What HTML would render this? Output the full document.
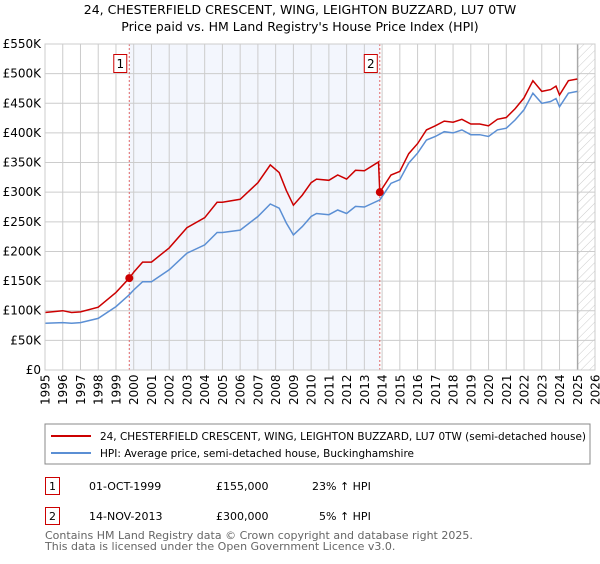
<!DOCTYPE html>
<html><head><meta charset="utf-8"><style>
body{margin:0;background:#fff;width:600px;height:560px;overflow:hidden;font-family:"DejaVu Sans","Liberation Sans",sans-serif;}
svg text{font-family:"DejaVu Sans","Liberation Sans",sans-serif;}
</style></head><body>
<svg id="chart" width="600" height="560" xmlns="http://www.w3.org/2000/svg">
<defs><pattern id="hatch" width="6" height="6" patternUnits="userSpaceOnUse" patternTransform="rotate(45)"><line x1="0" y1="0" x2="0" y2="6" stroke="#ccc" stroke-width="1"/></pattern></defs>
<text x="300" y="14" text-anchor="middle" font-size="12.5" fill="#000">24, CHESTERFIELD CRESCENT, WING, LEIGHTON BUZZARD, LU7 0TW</text>
<text x="300" y="31" text-anchor="middle" font-size="12.5" fill="#000">Price paid vs. HM Land Registry's House Price Index (HPI)</text>
<g id="plot"></g>
<g>
<rect x="45" y="424" width="545" height="40" fill="#fff" stroke="#888"/>
<line x1="51" y1="436" x2="91" y2="436" stroke="#cc0000" stroke-width="2"/>
<text x="100" y="440" font-size="11" textLength="486" lengthAdjust="spacingAndGlyphs">24, CHESTERFIELD CRESCENT, WING, LEIGHTON BUZZARD, LU7 0TW (semi-detached house)</text>
<line x1="51" y1="453" x2="91" y2="453" stroke="#5b8fd4" stroke-width="2"/>
<text x="100" y="457" font-size="11" textLength="314" lengthAdjust="spacingAndGlyphs">HPI: Average price, semi-detached house, Buckinghamshire</text>
</g>
<g font-size="11">
<rect x="45.5" y="477.5" width="14" height="17" fill="#fff" stroke="#cc0000"/><text x="52.5" y="490" text-anchor="middle">1</text>
<text x="89" y="490">01-OCT-1999</text><text x="216" y="490">£155,000</text><text x="312" y="490">23% ↑ HPI</text>
<rect x="45.5" y="507.5" width="14" height="17" fill="#fff" stroke="#cc0000"/><text x="52.5" y="520" text-anchor="middle">2</text>
<text x="89" y="520">14-NOV-2013</text><text x="216" y="520">£300,000</text><text x="319" y="520">5% ↑ HPI</text>
</g>
<text x="45" y="539" font-size="11" fill="#666">Contains HM Land Registry data © Crown copyright and database right 2025.</text>
<text x="45" y="550" font-size="11" fill="#666">This data is licensed under the Open Government Licence v3.0.</text>
</svg>
<script>
const hpiYears=[1995,1996,1996.5,1997,1998,1999,1999.75,2000,2000.5,2001,2002,2003,2004,2004.7,2005,2006,2007,2007.7,2008.2,2008.6,2009,2009.5,2010,2010.3,2011,2011.5,2012,2012.5,2013,2013.87,2014.5,2015,2015.5,2016,2016.5,2017,2017.5,2018,2018.5,2019,2019.5,2020,2020.5,2021,2021.5,2022,2022.5,2023,2023.5,2023.8,2024,2024.5,2025];
const hpiValues=[79,80,79,80,87,107,127,135,149,149,169,197,211,232,232,236,259,280,273,248,228,242,259,264,262,270,264,276,275,287,315,321,349,366,388,394,402,400,405,397,397,394,405,408,422,439,467,450,453,458,444,467,470];
const priceYears=[1995,1996,1996.5,1997,1998,1999,1999.75,2000,2000.5,2001,2002,2003,2004,2004.7,2005,2006,2007,2007.7,2008.2,2008.6,2009,2009.5,2010,2010.3,2011,2011.5,2012,2012.5,2013,2013.8,2013.87,2014.5,2015,2015.5,2016,2016.5,2017,2017.5,2018,2018.5,2019,2019.5,2020,2020.5,2021,2021.5,2022,2022.5,2023,2023.5,2023.8,2024,2024.5,2025];
const priceValues=[97,100,97,98,106,131,155,165,182,182,206,240,257,283,283,288,316,346,333,303,278,295,316,322,320,329,322,337,336,351,300,329,335,365,382,405,412,420,418,423,415,415,412,423,426,441,459,488,470,473,479,464,488,491];
const saleYears=[1999.75,2013.87];
const saleValues=[155,300];
const saleLabels=["1","2"];
const yTicks=[0,50,100,150,200,250,300,350,400,450,500,550];
const yTickLabels=["£0","£50K","£100K","£150K","£200K","£250K","£300K","£350K","£400K","£450K","£500K","£550K"];
const xTicks=[1995,1996,1997,1998,1999,2000,2001,2002,2003,2004,2005,2006,2007,2008,2009,2010,2011,2012,2013,2014,2015,2016,2017,2018,2019,2020,2021,2022,2023,2024,2025,2026];
const dataEndYear=2025.03;

const X0=45,X1=595,Y0=370,Y1=44,xmin=1995,xmax=2026,ymax=550;
const xs=v=>X0+(v-xmin)/(xmax-xmin)*(X1-X0);
const ys=v=>Y0-v/ymax*(Y0-Y1);
const NS="http://www.w3.org/2000/svg";
const plot=document.getElementById('plot');
function mk(tag,attrs,parent){const e=document.createElementNS(NS,tag);for(const k in attrs)e.setAttribute(k,attrs[k]);(parent||plot).appendChild(e);return e;}

let e=mk('rect',{x:xs(saleYears[0]),y:Y1,width:xs(saleYears[1])-xs(saleYears[0]),height:Y0-Y1,fill:'#f3f6fd'});


e=mk('rect',{x:xs(dataEndYear),y:Y1,width:X1-xs(dataEndYear),height:Y0-Y1,fill:'url(#hatch)'});


xTicks.forEach((t,i)=>{
 const g=mk('line',{x1:xs(t),x2:xs(t),y1:Y1,y2:Y0,stroke:'#ccc','stroke-width':1});
 
 
 const x=xs(t)+4.5,y=405;
 const tx=mk('text',{x:x,y:y,'font-size':12,transform:`rotate(-90 ${x} ${y})`});
 tx.textContent=t;
 
 
});
yTicks.forEach((t,i)=>{
 const g=mk('line',{x1:X0,x2:X1,y1:ys(t),y2:ys(t),stroke:'#ccc','stroke-width':1});
 
 
 const tx=mk('text',{x:41,y:ys(t)+4,'font-size':12,'text-anchor':'end'});
 tx.textContent=yTickLabels[i];
 
 
});
e=mk('line',{x1:xs(dataEndYear),x2:xs(dataEndYear),y1:Y1,y2:Y0,stroke:'#999','stroke-width':1});


saleYears.forEach((s,i)=>{
 const l=mk('line',{x1:xs(s),x2:xs(s),y1:Y1,y2:Y0,stroke:'#e06666','stroke-width':1,'stroke-dasharray':'2,2'});
 
 
 const r=mk('rect',{x:xs(s)-15.5,y:54.5,width:13,height:18,fill:'#fff',stroke:'#cc0000'});
 
 
 const t=mk('text',{x:xs(s)-9,y:68,'font-size':12,'text-anchor':'middle'});
 t.textContent=saleLabels[i];
 
 
});
const path=(xa,va)=>xa.map((x,i)=>(i?'L':'M')+xs(x).toFixed(1)+','+ys(va[i]).toFixed(1)).join('');
e=mk('path',{d:path(hpiYears,hpiValues),fill:'none',stroke:'#5b8fd4','stroke-width':1.5});


e=mk('path',{d:path(priceYears,priceValues),fill:'none',stroke:'#cc0000','stroke-width':1.5});


saleYears.forEach((s,i)=>{
 const c=mk('circle',{cx:xs(s),cy:ys(saleValues[i]),r:4,fill:'#cc0000'});
 
 
});
e=mk('rect',{x:X0,y:Y1,width:X1-X0,height:Y0-Y1,fill:'none',stroke:'#ccc'});


</script>
</body></html>
